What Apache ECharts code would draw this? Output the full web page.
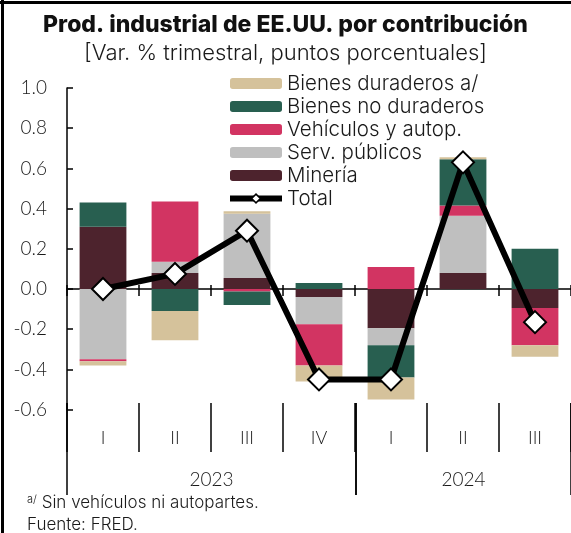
<!DOCTYPE html>
<html>
<head>
<meta charset="utf-8">
<script src="https://cdn.jsdelivr.net/npm/echarts@6/dist/echarts.min.js"></script>
<style>
  html, body { margin: 0; padding: 0; background: #fff; }
  #chart { width: 571px; height: 533px; }
</style>
</head>
<body>
<div id="chart"></div>
<script>
// trimestres y años
var quarters = ['I', 'II', 'III', 'IV', 'I', 'II', 'III'];
var years2023 = ['2023'];
var years2024 = ['2024'];

// contribuciones (puntos porcentuales)
var mineria      = [0.31, 0.08, 0.055, -0.04, -0.195, 0.08, -0.095];
var servPublicos = [-0.35, 0.055, 0.32, -0.135, -0.085, 0.285, 0];
var vehiculos    = [-0.01, 0.30, -0.013, -0.205, 0.11, 0.05, -0.185];
var noDuraderos  = [0.12, -0.11, -0.067, 0.03, -0.16, 0.23, 0.20];
var duraderos    = [-0.02, -0.145, 0.012, -0.08, -0.11, 0.01, -0.057];
var total        = [0.0, 0.075, 0.29, -0.45, -0.45, 0.63, -0.165];

var FONT = 'Inter';
var NUMFONT = 'Lato';
var TXT = '#1a1a1a';

var chart = echarts.init(document.getElementById('chart'));

//serie de barras apiladas
function barSerie(name, data, color){
	return {
		name: name,
		type: 'bar',
		stack: 'contrib',
		barWidth: '65%',
		xAxisIndex: 0,
		yAxisIndex: 0,
		data: data,
		itemStyle: { color: color },
		emphasis: { disabled: true }
	};
}

var option = {
	animation: false,
	textStyle: { fontFamily: FONT },
	title: [
		{ text: 'Prod. industrial de EE.UU. por contribución', left: 'center', top: 9,
		  textStyle: { fontFamily: FONT, fontSize: 23, fontWeight: 800, color: '#111' } },
		{ text: '[Var. % trimestral, puntos porcentuales]', left: 'center', top: 37,
		  textStyle: { fontFamily: FONT, fontSize: 22, fontWeight: 300, color: TXT } },
		{ text: '{sup|a/} Sin vehículos ni autopartes.', left: 22, top: 489,
		  textStyle: { fontFamily: FONT, fontSize: 17, fontWeight: 300, color: TXT,
		    rich: { sup: { fontFamily: FONT, fontSize: 11, fontWeight: 300, color: TXT, verticalAlign: 'top', padding: [0, 0, 6, 0] } } } },
		{ text: 'Fuente: FRED.', left: 22, top: 511,
		  textStyle: { fontFamily: FONT, fontSize: 17, fontWeight: 300, color: TXT } }
	],
	legend: {
		orient: 'vertical',
		left: 222,
		top: 68,
		itemWidth: 52,
		itemHeight: 11,
		itemGap: 2,
		selectedMode: false,
		data: [
			'Bienes duraderos a/', 'Bienes no duraderos', 'Vehículos y autop.', 'Serv. públicos', 'Minería',
			{ name: 'Total', lineStyle: { width: 6, color: '#000' }, itemStyle: { color: '#fff', borderColor: '#000', borderWidth: 1.5 } }
		],
		textStyle: { fontFamily: FONT, fontSize: 20.5, fontWeight: 300, color: TXT, lineHeight: 20 }
	},
	grid: [
		{ left: 67, width: 505, top: 88, height: 321.6 },
		{ left: 67, width: 505, top: 403, height: 49 },
		{ left: 67, width: 289, top: 403, height: 92 },
		{ left: 356, width: 216, top: 403, height: 92 }
	],
	xAxis: [
		{
			gridIndex: 0, type: 'category', data: quarters,
			axisLine: { onZero: true, onZeroAxisIndex: 0, lineStyle: { color: '#000', width: 1.5 } },
			axisTick: { show: true, inside: false, length: 7, lineStyle: { color: '#000', width: 1.5 } },
			axisLabel: { show: false }
		},
		{
			gridIndex: 0, type: 'category', data: quarters, position: 'top',
			axisLine: { show: false, onZero: true, onZeroAxisIndex: 0 },
			axisTick: { show: true, inside: false, length: 4, lineStyle: { color: '#000', width: 1.5 } },
			axisLabel: { show: false }
		},
		{
			gridIndex: 1, type: 'category', data: quarters, position: 'bottom',
			axisLine: { show: false }, axisTick: { show: false },
			splitLine: { show: true, interval: 0, lineStyle: { color: '#000', width: 1.5 } },
			axisLabel: { inside: true, margin: 14, verticalAlign: 'middle', interval: 0,
			  fontFamily: NUMFONT, fontSize: 18, fontWeight: 300, color: TXT }
		},
		{
			gridIndex: 2, type: 'category', data: years2023, position: 'bottom',
			axisLine: { show: false }, axisTick: { show: false },
			splitLine: { show: true, interval: 0, lineStyle: { color: '#000', width: 1.5 } },
			axisLabel: { inside: true, margin: 15, verticalAlign: 'middle',
			  fontFamily: NUMFONT, fontSize: 19, fontWeight: 300, color: TXT }
		},
		{
			gridIndex: 3, type: 'category', data: years2024, position: 'bottom',
			axisLine: { show: false }, axisTick: { show: false },
			splitLine: { show: true, interval: 0, lineStyle: { color: '#000', width: 1.5 } },
			axisLabel: { inside: true, margin: 15, verticalAlign: 'middle',
			  fontFamily: NUMFONT, fontSize: 19, fontWeight: 300, color: TXT }
		}
	],
	yAxis: [
		{
			gridIndex: 0, type: 'value', min: -0.6, max: 1.0, interval: 0.2,
			axisLine: { show: true, lineStyle: { color: '#000', width: 1.5 } },
			axisTick: { show: true, inside: true, length: 6, lineStyle: { color: '#000', width: 1.5 } },
			splitLine: { show: false },
			axisLabel: { margin: 20, fontFamily: NUMFONT, fontSize: 19, fontWeight: 300, color: TXT,
			  formatter: function(v){ return v.toFixed(1); } }
		},
		{ gridIndex: 1, type: 'value', show: false, min: 0, max: 1 },
		{ gridIndex: 2, type: 'value', show: false, min: 0, max: 1 },
		{ gridIndex: 3, type: 'value', show: false, min: 0, max: 1 }
	],
	series: [
		barSerie('Minería', mineria, '#4D232D'),
		barSerie('Serv. públicos', servPublicos, '#BFBFBF'),
		barSerie('Vehículos y autop.', vehiculos, '#D23462'),
		barSerie('Bienes no duraderos', noDuraderos, '#285F50'),
		barSerie('Bienes duraderos a/', duraderos, '#D5C29B'),
		{
			name: 'Total',
			type: 'line',
			xAxisIndex: 0,
			yAxisIndex: 0,
			data: total,
			z: 10,
			symbol: 'diamond',
			symbolSize: [22, 22],
			showAllSymbol: true,
			lineStyle: { color: '#000', width: 6 },
			itemStyle: { color: '#fff', borderColor: '#000', borderWidth: 2 },
			emphasis: { disabled: true }
		}
	],
	graphic: [
		//marco superior e izquierdo
		{ type: 'line', shape: { x1: 0, y1: 2.5, x2: 571, y2: 2.5 }, style: { stroke: '#000', lineWidth: 3 } },
		{ type: 'line', shape: { x1: 2.5, y1: 0, x2: 2.5, y2: 533 }, style: { stroke: '#000', lineWidth: 3 } }
	]
};

chart.setOption(option);
</script>
</body>
</html>
